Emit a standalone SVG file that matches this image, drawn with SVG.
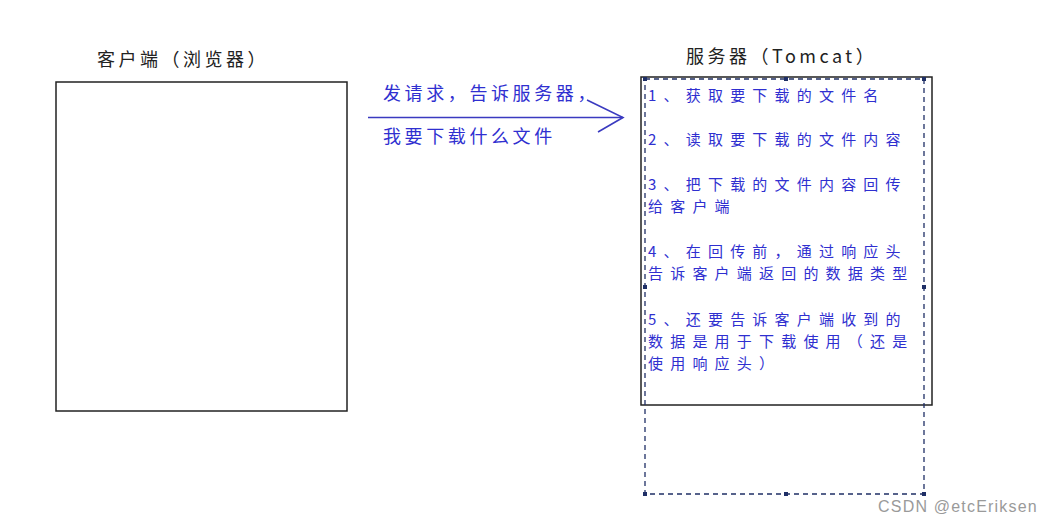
<svg xmlns="http://www.w3.org/2000/svg" width="1055" height="522" viewBox="0 0 1055 522">
<style>
.box{fill:#fff;stroke:#222;stroke-width:1.5}
.title{font-family:"Noto Sans CJK SC","Liberation Sans",sans-serif;font-size:18px;fill:#222;letter-spacing:3.5px}
.blue{font-family:"Noto Sans CJK SC","Liberation Sans",sans-serif;font-size:18px;fill:#2f2fd0;letter-spacing:3.6px}
.list{font-family:"Noto Sans CJK SC","Liberation Sans",sans-serif;font-size:15px;fill:#2f2fd0;letter-spacing:7.2px}
.dash{fill:none;stroke:#1f2f66;stroke-width:1.3;stroke-dasharray:5 4}
.handle{fill:#1f2f66}
.arrow{fill:none;stroke:#3a3ac0;stroke-width:1.6}
.wm{font-family:"Liberation Sans",sans-serif;font-size:16px;fill:#9a9a9a;letter-spacing:1.2px}
</style>
<rect width="1055" height="522" fill="#fff"/>
<g id="client">
<rect class="box" x="56" y="82" width="291" height="329"/>
<text class="title" x="97" y="66">客户端（浏览器）</text>
</g>
<g id="server">
<rect class="box" x="641" y="77" width="291" height="328"/>
<text class="title" x="686" y="63">服务器（Tomcat）</text>
<rect class="dash" x="645" y="79" width="279" height="415"/>
<g class="handle">
<rect x="643" y="77" width="4" height="4"/><rect x="784" y="77" width="4" height="4"/><rect x="922" y="77" width="4" height="4"/>
<rect x="643" y="285" width="4" height="4"/><rect x="922" y="285" width="4" height="4"/>
<rect x="643" y="492" width="4" height="4"/><rect x="784" y="492" width="4" height="4"/><rect x="922" y="492" width="4" height="4"/>
</g>
<g class="list">
<text x="648" y="101">1、获取要下载的文件名</text>
<text x="648" y="145">2、读取要下载的文件内容</text>
<text x="648" y="190">3、把下载的文件内容回传</text>
<text x="648" y="212">给客户端</text>
<text x="648" y="257">4、在回传前，通过响应头</text>
<text x="648" y="279">告诉客户端返回的数据类型</text>
<text x="648" y="325">5、还要告诉客户端收到的</text>
<text x="648" y="347">数据是用于下载使用（还是</text>
<text x="648" y="369">使用响应头）</text>
</g>
</g>
<g id="connectors">
<line class="arrow" x1="368" y1="117.5" x2="623" y2="117.5"/>
<polyline class="arrow" points="587,100 623,117.5 598,132"/>
</g>
<g id="labels">
<text class="blue" x="383" y="100">发请求，告诉服务器，</text>
<text class="blue" x="383" y="143">我要下载什么文件</text>
</g>
<text class="wm" x="878" y="512">CSDN @etcEriksen</text>
</svg>
